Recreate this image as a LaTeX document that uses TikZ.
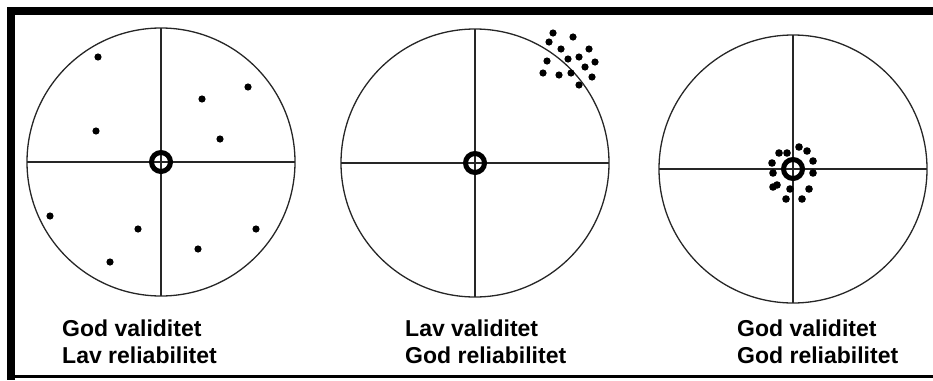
\documentclass[tikz,border=0pt]{standalone}
\usepackage{fontspec}
\setmainfont{Liberation Sans}
\begin{document}
\begin{tikzpicture}[x=1pt,y=-1pt,
  target/.style={draw=black!85,line width=1.3pt,circle,inner sep=0pt,outer sep=0pt,minimum size=268pt},
  cross/.style={draw=black!85,line width=1.6pt},
  ring/.style={draw=black,line width=5pt,circle,inner sep=0pt,outer sep=0pt,minimum size=19pt},
  dot/.style={fill=black},
  lbl/.style={anchor=base west,inner sep=0pt,font=\fontsize{23}{27}\selectfont\bfseries}]
\useasboundingbox (0,0) rectangle (933,380);
% frame
\fill (7,7) rectangle (933,14.5);
\fill (7,7) rectangle (15,380);
\fill (7,375) rectangle (933,378);
% target 1
\node[target] (t1) at (161,162) {};
\draw[cross] (t1.north) -- (t1.south);
\draw[cross] (t1.west) -- (t1.east);
\node[ring] (r1) at (t1.center) {};
\foreach \p in {(98,57),(248,87),(202,99),(96,131),(220,139),(50,216),(138,229),(256,229),(198,249),(110,262)}
  \fill[dot] \p circle (3.6);
% target 2
\node[target] (t2) at (475,163) {};
\draw[cross] (t2.north) -- (t2.south);
\draw[cross] (t2.west) -- (t2.east);
\node[ring] (r2) at (t2.center) {};
\foreach \p in {(553,33),(573,37),(549,42),(561,49),(589,49),(579,57),(568,59),(547,61),(595,62),(585,67),(543,73),(559,75),(571,73),(592,77),(579,85)}
  \fill[dot] \p circle (3.6);
% target 3
\node[target] (t3) at (793,169) {};
\draw[cross] (t3.north) -- (t3.south);
\draw[cross] (t3.west) -- (t3.east);
\node[ring] (r3) at (t3.center) {};
\foreach \p in {(799,147),(807,151),(779,153),(787,153),(813,161),(772,163),(773,173),(813,173),(777,185),(773,187),(790,189),(809,189),(786,199),(802,199)}
  \fill[dot] \p circle (3.8);
% labels
\node[lbl] (a1) at (62,336) {God validitet};
\node[lbl] (a2) at (62,363) {Lav reliabilitet};
\node[lbl] (b1) at (405,336) {Lav validitet};
\node[lbl] (b2) at (405,363) {God reliabilitet};
\node[lbl] (c1) at (737,336) {God validitet};
\node[lbl] (c2) at (737,363) {God reliabilitet};
\end{tikzpicture}
\end{document}
